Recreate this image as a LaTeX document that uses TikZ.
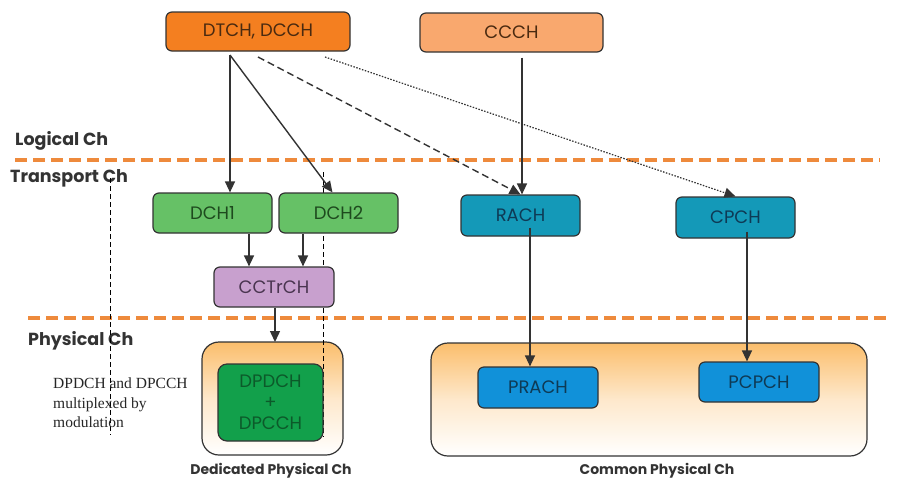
\documentclass[tikz,border=0pt]{standalone}
\usepackage{fontspec}
\setmainfont{Liberation Serif}
\newfontfamily\geo{Poppins}
\usetikzlibrary{arrows.meta,shapes.misc}
\definecolor{lineC}{HTML}{333333}
\definecolor{dashOr}{HTML}{EE8A3C}
\definecolor{dtchC}{HTML}{F47F20}
\definecolor{ccchC}{HTML}{F9A86E}
\definecolor{dchC}{HTML}{66C166}
\definecolor{cctC}{HTML}{C8A0CE}
\definecolor{rachC}{HTML}{1499B8}
\definecolor{prachC}{HTML}{1191D9}
\definecolor{dpC}{HTML}{12A04B}
\definecolor{shadeOr}{HTML}{FBBE6C}
\definecolor{txtOr}{HTML}{4A2A10}
\definecolor{txtGr}{HTML}{1E4A1E}
\definecolor{txtPu}{HTML}{4A3550}
\definecolor{txtBl}{HTML}{0E3A55}
\definecolor{txtDp}{HTML}{0C5A2A}
\tikzset{
  box/.style={draw=lineC, line width=1.2pt, rounded corners=6pt, inner sep=0pt, font=\geo\fontsize{18}{20}\selectfont},
  lbl/.style={font=\geo\bfseries\fontsize{17.5}{20}\selectfont, text=lineC, inner sep=0pt, anchor=west},
  arr/.style={draw=lineC, line width=1.4pt, -{Triangle[length=11pt,width=10pt]}},
  vdash/.style={draw=black, line width=0.9pt, dash pattern=on 5pt off 3pt},
  orline/.style={draw=dashOr, line width=3.5pt, dash pattern=on 12pt off 6pt},
  outer/.style={draw=lineC, line width=1.2pt, rounded corners=17pt, top color=shadeOr, bottom color=white, middle color=shadeOr!35, shading angle=0},
}
\begin{document}
\begin{tikzpicture}[x=1pt,y=-1pt]
\path[use as bounding box, fill=white] (0,0) rectangle (902,491);
% layer separators
\draw[orline] (15,160) -- (880,160);
\draw[orline] (28,318) -- (890,318);
% labels
\node[lbl] (lg) at (15,141) {Logical Ch};
\node[lbl] (tr) at (10,178) {Transport Ch};
\node[lbl] (ph) at (28,341) {Physical Ch};
% vertical dashed lines (behind)
\coordinate (v1a) at (110,178); \coordinate (v1b) at (110,435);
\coordinate (v2a) at (323,172); \coordinate (v2b) at (323,437);
\draw[vdash] (v1a) -- (v1b);
% outer boxes
\path[outer] (202,342) rectangle (343,455);
\path[outer] (431,343) rectangle (867,456);
\coordinate (ded) at (272.5,342);
\draw[vdash] (v2a) -- (v2b);
% top boxes
\node[box, fill=dtchC, text=txtOr, minimum width=184pt, minimum height=39pt] (dtch) at (258,31.5) {DTCH, DCCH};
\node[box, fill=ccchC, text=txtOr, minimum width=183pt, minimum height=39pt] (ccch) at (511.5,32.5) {CCCH};
% transport
\node[box, fill=dchC, text=txtGr, minimum width=119pt, minimum height=40pt] (dch1) at (212.5,213) {DCH1};
\node[box, fill=dchC, text=txtGr, minimum width=119pt, minimum height=40pt] (dch2) at (338.5,213) {DCH2};
\node[box, fill=cctC, text=txtPu, minimum width=120pt, minimum height=40pt] (cct) at (274,287) {CCTrCH};
\node[box, fill=rachC, text=txtBl, minimum width=119pt, minimum height=41pt] (rach) at (520.5,215.5) {RACH};
\node[box, fill=rachC, text=txtBl, minimum width=119pt, minimum height=41pt] (cpch) at (735.5,217.5) {CPCH};
% physical
\node[box, fill=dpC, text=txtDp, rounded corners=9pt, minimum width=105pt, minimum height=77pt, align=center, font=\geo\fontsize{18}{21}\selectfont] (dp) at (270.5,402.5) {DPDCH\\+\\DPCCH};
\node[box, fill=prachC, text=txtBl, minimum width=120pt, minimum height=41pt] (prach) at (538,387.5) {PRACH};
\node[box, fill=prachC, text=txtBl, minimum width=120pt, minimum height=40pt] (pcpch) at (759,382) {PCPCH};
% captions
\node[font=\geo\bfseries\fontsize{14}{16}\selectfont, text=lineC] (dcap) at (271,471) {Dedicated Physical Ch};
\node[font=\geo\bfseries\fontsize{14}{16}\selectfont, text=lineC] (ccap) at (657,471) {Common Physical Ch};
\node[font=\fontsize{15.5}{19.5}\selectfont, align=left, anchor=north west, inner sep=0pt, text=black!85] (note) at (53,378) {DPDCH and DPCCH\\multiplexed by\\modulation};
% connectors
\coordinate (s1) at (230,55);
\draw[arr] (s1) -- (dch1.north -| s1);
\draw[arr] (s1) -- ([xshift=-6pt]dch2.north);
\draw[arr, dash pattern=on 7pt off 4pt] (258,57) -- ([xshift=0pt]rach.north);
\draw[arr, dash pattern=on 1.5pt off 1.5pt, line width=1.2pt] (325,57) -- (cpch.north);
\draw[arr] (ccch.south -| rach.north) ++(1.5,5) -- ([xshift=1.5pt]rach.north);
\draw[arr] (dch1.south -| 249,0) -- (cct.north -| 249,0);
\draw[arr] (dch2.south -| 303,0) -- (cct.north -| 303,0);
\draw[arr] (cct.south -| 275,0) -- (ded -| 275,0);
\draw[arr] ([yshift=9pt]rach.south -| 530,0) -- (prach.north -| 530,0);
\draw[arr] ([yshift=7pt]cpch.south -| 747,0) -- (pcpch.north -| 747,0);
\end{tikzpicture}
\end{document}
